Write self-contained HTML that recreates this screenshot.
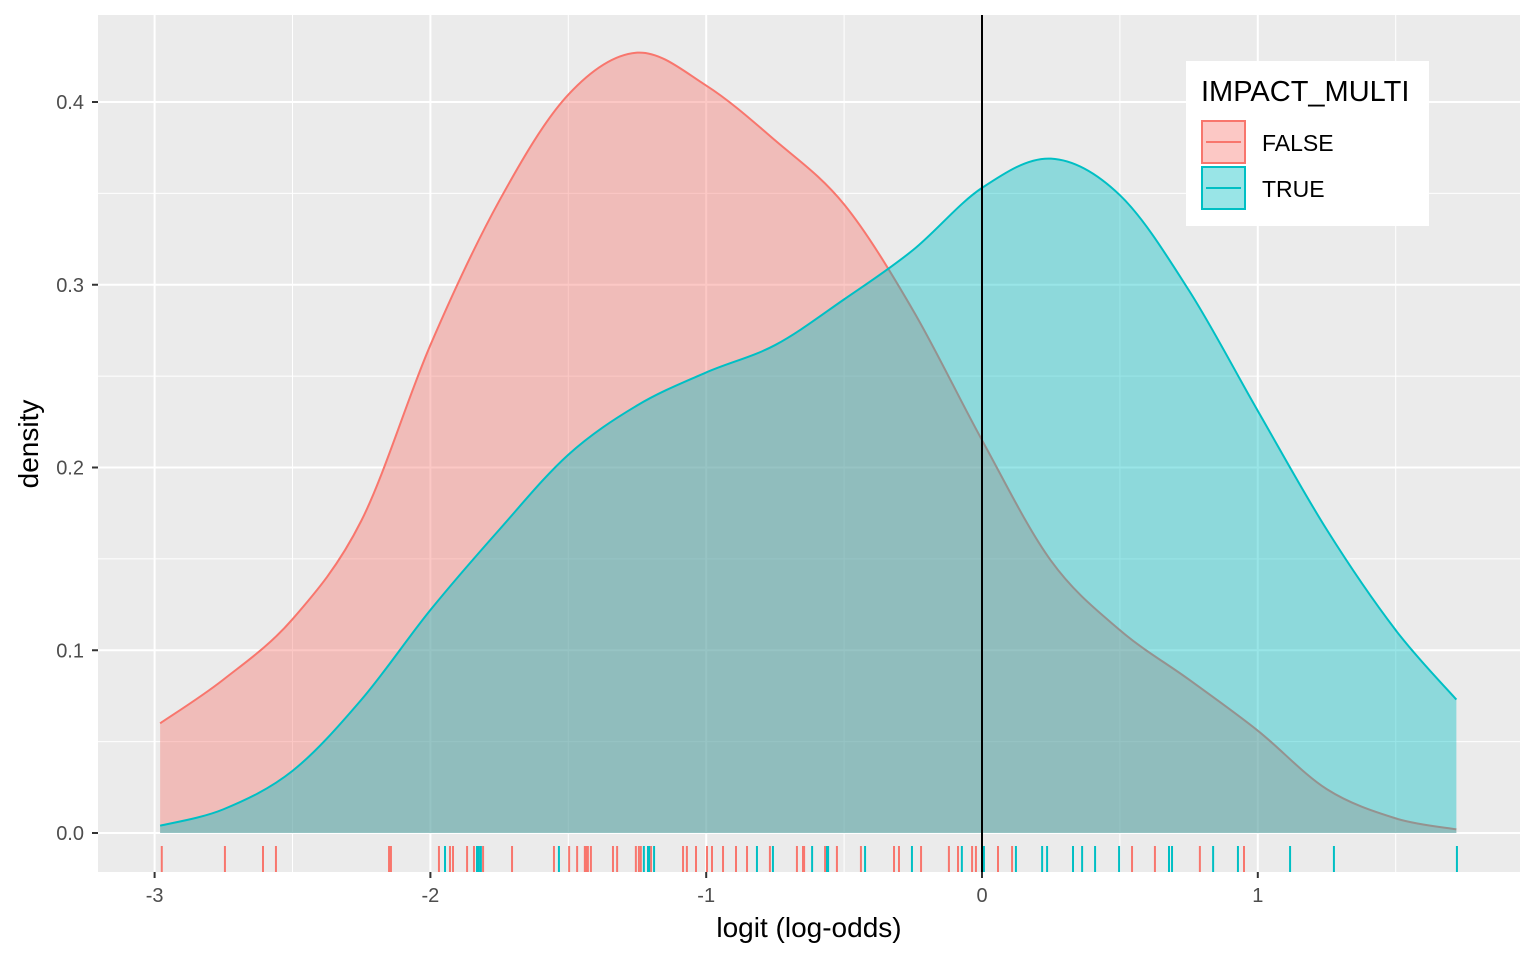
<!DOCTYPE html>
<html><head><meta charset="utf-8"><style>
html,body{margin:0;padding:0;background:#fff;width:1536px;height:960px;overflow:hidden}
svg{display:block;font-family:"Liberation Sans",sans-serif}
</style></head><body>
<svg id="chart" width="1536" height="960"></svg>
<script>
const xTicks=[-3,-2,-1,0,1];
const xMinor=[-2.5,-1.5,-0.5,0.5,1.5];
const yTicks=[0,0.1,0.2,0.3,0.4];
const yMinor=[0.05,0.15,0.25,0.35];
const gridX=[-2.98,-2.75,-2.5,-2.25,-2,-1.75,-1.5,-1.25,-1,-0.75,-0.5,-0.25,0,0.25,0.5,0.75,1,1.25,1.5,1.72];
const densFalse=[0.060,0.084,0.117,0.171,0.267,0.346,0.404,0.427,0.409,0.379,0.344,0.286,0.215,0.149,0.111,0.084,0.056,0.024,0.008,0.002];
const densTrue=[0.004,0.013,0.034,0.073,0.122,0.166,0.207,0.234,0.252,0.267,0.292,0.319,0.353,0.369,0.349,0.297,0.231,0.166,0.111,0.073];
const rugFalse=[-2.974,-2.745,-2.607,-2.560,-2.150,-2.143,-1.969,-1.929,-1.918,-1.867,-1.842,-1.809,-1.704,-1.552,-1.497,-1.468,-1.440,-1.436,-1.432,-1.429,-1.418,-1.338,-1.323,-1.255,-1.244,-1.237,-1.200,-1.084,-1.070,-1.037,-0.997,-0.979,-0.939,-0.892,-0.852,-0.769,-0.671,-0.649,-0.645,-0.569,-0.526,-0.439,-0.319,-0.301,-0.221,-0.120,-0.087,-0.036,-0.022,0.058,0.109,0.544,0.627,0.790,0.950];
const rugTrue=[-1.947,-1.831,-1.824,-1.817,-1.534,-1.226,-1.211,-1.207,-1.189,-0.816,-0.758,-0.616,-0.562,-0.558,-0.424,-0.254,-0.073,0.007,0.123,0.218,0.236,0.330,0.363,0.410,0.497,0.678,0.689,0.838,0.928,1.117,1.276,1.722];

const NS="http://www.w3.org/2000/svg";
const svg=document.getElementById('chart');
const L=98,R=1520,T=15,B=872;
const sx=v=>982+v*275.8;
const sy=v=>833-v*1827.5;
function mk(tag,attrs,parent){const e=document.createElementNS(NS,tag);for(const k in attrs)e.setAttribute(k,attrs[k]);(parent||svg).appendChild(e);return e;}

const bg=mk('rect',{x:L,y:T,width:R-L,height:B-T,fill:'#ebebeb'});


const grid=mk('g',{});


yMinor.forEach(v=>mk('line',{x1:L,x2:R,y1:sy(v),y2:sy(v),stroke:'#fff','stroke-width':1},grid));
xMinor.forEach(v=>mk('line',{y1:T,y2:B,x1:sx(v),x2:sx(v),stroke:'#fff','stroke-width':1},grid));
yTicks.forEach(v=>mk('line',{x1:L,x2:R,y1:sy(v),y2:sy(v),stroke:'#fff','stroke-width':2},grid));
xTicks.forEach(v=>mk('line',{y1:T,y2:B,x1:sx(v),x2:sx(v),stroke:'#fff','stroke-width':2},grid));

function pathFor(xs,ys){
  const p=xs.map((x,i)=>[sx(x),sy(ys[i])]);
  let d='M'+p[0][0]+','+p[0][1];
  for(let i=0;i<p.length-1;i++){
    const p0=p[Math.max(0,i-1)],p1=p[i],p2=p[i+1],p3=p[Math.min(p.length-1,i+2)];
    const c1=[p1[0]+(p2[0]-p0[0])/6,p1[1]+(p2[1]-p0[1])/6];
    const c2=[p2[0]-(p3[0]-p1[0])/6,p2[1]-(p3[1]-p1[1])/6];
    d+=' C'+c1[0]+','+c1[1]+' '+c2[0]+','+c2[1]+' '+p2[0]+','+p2[1];
  }
  return d;
}
function series(ys,fill,stroke,name){
  const g=mk('g',{});
  
  
  const line=pathFor(gridX,ys);
  const x0=sx(gridX[0]),x1=sx(gridX[gridX.length-1]);
  mk('path',{d:line+' L'+x1+','+sy(0)+' L'+x0+','+sy(0)+' Z',fill:fill,'fill-opacity':0.4,stroke:'none'},g);
  mk('path',{d:line,fill:'none',stroke:stroke,'stroke-width':2},g);
}
series(densFalse,'#f8766d','#f8766d','density-false');
series(densTrue,'#00bfc4','#00bfc4','density-true');

function rug(vals,color,name){
  const g=mk('g',{});
  
  
  vals.forEach(v=>mk('line',{x1:sx(v),x2:sx(v),y1:846,y2:872,stroke:color,'stroke-width':2},g));
}
rug(rugFalse,'#f8766d','rug-false');
rug(rugTrue,'#00bfc4','rug-true');

const vl=mk('line',{x1:sx(0),x2:sx(0),y1:T,y2:B,stroke:'#000','stroke-width':2});



const ax=mk('g',{});


xTicks.forEach(v=>{
  mk('line',{x1:sx(v),x2:sx(v),y1:B,y2:B+6,stroke:'#333','stroke-width':2},ax);
  const t=mk('text',{x:sx(v),y:902,'text-anchor':'middle','font-size':20,fill:'#4d4d4d'},ax);t.textContent=String(v);
});
const ay=mk('g',{});


yTicks.forEach(v=>{
  mk('line',{x1:L-6,x2:L,y1:sy(v),y2:sy(v),stroke:'#333','stroke-width':2},ay);
  const t=mk('text',{x:84,y:sy(v)+7,'text-anchor':'end','font-size':20,fill:'#4d4d4d'},ay);t.textContent=v.toFixed(1);
});
const xt=mk('text',{x:809,y:937,'text-anchor':'middle','font-size':28,fill:'#000'});
xt.textContent='logit (log-odds)';


const yt=mk('text',{x:0,y:0,transform:'translate(38,444) rotate(-90)','text-anchor':'middle','font-size':28,fill:'#000'});
yt.textContent='density';



const lg=mk('g',{});


mk('rect',{x:1186,y:61,width:243,height:165,fill:'#fff'},lg);
const lt=mk('text',{x:1201,y:101,'font-size':29,fill:'#000'},lg);lt.textContent='IMPACT_MULTI';
[['FALSE','#f8766d',121],['TRUE','#00bfc4',167]].forEach(([lab,c,y])=>{
  const e=mk('g',{},lg);
  
  
  mk('rect',{x:1202,y:y,width:43,height:42,fill:c,'fill-opacity':0.4,stroke:c,'stroke-width':2},e);
  mk('line',{x1:1206,x2:1241,y1:y+21,y2:y+21,stroke:c,'stroke-width':2},e);
  const t=mk('text',{x:1262,y:y+30,'font-size':23,fill:'#000'},e);t.textContent=lab;
});
</script>
</body></html>
